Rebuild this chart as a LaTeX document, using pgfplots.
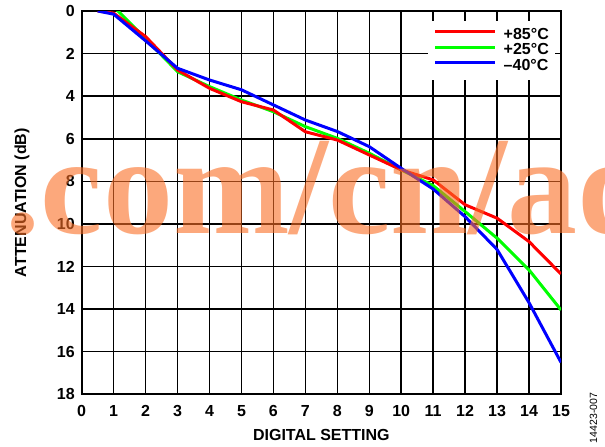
\documentclass[border=0pt]{standalone}
\usepackage{fontspec}
\setmainfont{Liberation Sans}
\newfontfamily\wmfont{Liberation Serif}
\usepackage{pgfplots}
\pgfplotsset{compat=1.18}
\definecolor{wm}{RGB}{250,110,37}
\begin{document}
\begin{tikzpicture}
\path[use as bounding box] (-81.7pt,-52.7pt) rectangle (523.3pt,394.3pt);
\begin{axis}[
  scale only axis,
  width=479.3pt, height=383.3pt,
  xmin=0, xmax=15, ymin=0, ymax=18,
  y dir=reverse,
  xtick={0,1,...,15}, ytick={0,2,...,18},
  grid=major,
  major grid style={draw=black, line width=1.5pt},
  axis line style={black, line width=2pt},
  tick style={draw=none},
  /pgf/number format/assume math mode=true,
  tick label style={font=\fontsize{16}{16}\selectfont\bfseries},
  xticklabel style={inner sep=0pt, anchor=north, yshift=-10.7pt},
  yticklabel style={inner sep=0pt, anchor=east, xshift=-6.8pt},
  xlabel={DIGITAL SETTING},
  ylabel={ATTENUATION (dB)},
  label style={font=\fontsize{16}{16}\selectfont\bfseries},
  xlabel style={at={(axis description cs:0.5,-0.1218)}, anchor=base, inner sep=0pt},
  ylabel style={at={(axis description cs:-0.1162,0.5)}, anchor=base, rotate=0, inner sep=0pt},
  legend style={at={(axis description cs:0.9875,0.9735)}, anchor=north east,
    fill=white, draw=none, font=\fontsize{16}{16}\selectfont\bfseries,
    inner xsep=6pt, inner ysep=6pt,
    nodes={inner sep=0pt, text height=12pt, text depth=3.5pt},
    row sep=0pt,
    /tikz/every odd column/.append style={column sep=7pt}},
  legend cell align=left,
  legend image code/.code={\draw[#1, line width=3pt] (0pt,0.35em) -- (60pt,0.35em);},
]
\addplot[green, line width=3pt, forget plot] coordinates {
(1,-0.2) (2,1.3) (3,2.85) (4,3.55) (5,4.18) (6,4.73) (7,5.43) (8,5.98) (9,6.68) (10,7.46) (11,8.2) (12,9.42) (13,10.67) (14,12.16) (15,14.04)};
\addplot[red, line width=3pt, forget plot] coordinates {
(0.5,0) (1,0.1) (2,1.2) (3,2.77) (4,3.63) (5,4.26) (6,4.65) (7,5.67) (8,6.06) (9,6.76) (10,7.46) (11,7.93) (12,9.1) (13,9.73) (14,10.83) (15,12.35)};
\addplot[blue, line width=3pt, forget plot] coordinates {
(0.5,0) (1,0.15) (2,1.4) (3,2.69) (4,3.24) (5,3.7) (6,4.41) (7,5.12) (8,5.66) (9,6.37) (10,7.39) (11,8.36) (12,9.66) (13,11.2) (14,13.7) (15,16.5)};
\addlegendimage{red}
\addlegendentry{+85°C}
\addlegendimage{green}
\addlegendentry{+25°C}
\addlegendimage{blue}
\addlegendentry{–40°C}
\end{axis}
\node[anchor=base west, inner sep=0pt, text=wm, opacity=0.6, font=\wmfont\bfseries\fontsize{140}{140}\selectfont] at (-76pt,161pt) {.com/cn/ad};
\node[anchor=base, rotate=90, inner sep=0pt, font=\fontsize{10.5}{10.5}\selectfont] at (515.3pt,-23.7pt) {14423-007};
\end{tikzpicture}
\end{document}
